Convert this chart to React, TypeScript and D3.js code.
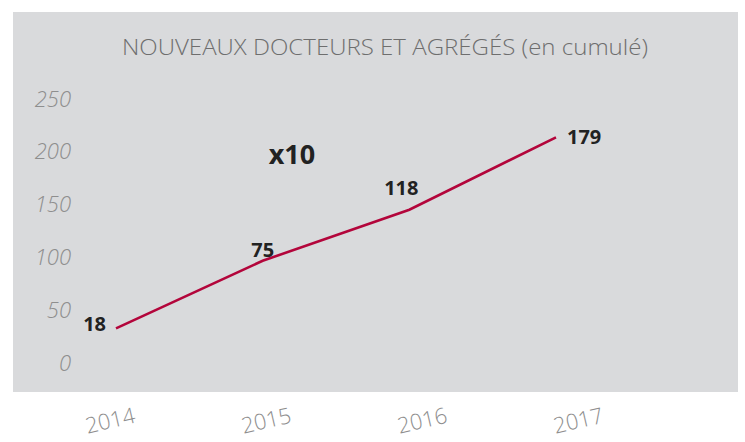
import React from "react";
import * as d3 from "d3";

const years = ["2014", "2015", "2016", "2017"];
const values = [18, 75, 118, 179];
const yTicks = [0, 50, 100, 150, 200, 250];
const title = "NOUVEAUX DOCTEURS ET AGRÉGÉS (en cumulé)";
const multiplier = "x10";

export default function App() {
  const W = 745, H = 442;
  const font = "'Open Sans', 'Noto Sans', sans-serif";
  const xLine = d3.scalePoint<string>().domain(years).range([116, 556]);
  const xLab = d3.scalePoint<string>().domain(years).range([112, 580]);
  const yAxis = d3.scaleLinear().domain([0, 250]).range([363, 99]);
  const yLine = d3.scaleLinear().domain([0, 250]).range([349.8, 53]);
  const line = d3
    .line<number>()
    .x((_, i) => xLine(years[i])!)
    .y((d) => yLine(d));
  const labelOffsets = [
    { dx: -10, dy: -4, anchor: "end" },
    { dx: 0, dy: -11, anchor: "middle" },
    { dx: -8, dy: -22, anchor: "middle" },
    { dx: 11, dy: 0, anchor: "start" },
  ];
  return (
    <svg
      width={W}
      height={H}
      style={{ position: "absolute", left: 0, top: 0 }}
    >
      <rect x={0} y={0} width={W} height={H} fill="#ffffff" />
      <rect x={13} y={12} width={725} height={380} fill="#d9dadc" />
      <text
        x={385}
        y={55}
        textAnchor="middle"
        fontFamily={font}
        fontWeight={300}
        fontSize={22}
        textLength={526}
        lengthAdjust="spacingAndGlyphs"
        fill="#6e6e6e"
      >
        {title}
      </text>
      {yTicks.map((t) => (
        <text
          key={t}
          x={71}
          y={yAxis(t) + 7.5}
          textAnchor="end"
          fontFamily={font}
          fontStyle="italic"
          fontWeight={300}
          fontSize={22}
          fill="#8e8e8e"
        >
          {t}
        </text>
      ))}
      {years.map((y) => (
        <text
          key={y}
          transform={`translate(${xLab(y)},${428}) rotate(-13)`}
          textAnchor="middle"
          fontFamily={font}
          fontWeight={300}
          fontSize={22}
          fill="#8e8e8e"
        >
          {y}
        </text>
      ))}
      <path
        d={line(values) || ""}
        fill="none"
        stroke="#b3053b"
        strokeWidth={2.6}
      />
      {values.map((v, i) => {
        const o = labelOffsets[i];
        return (
          <text
            key={i}
            x={xLine(years[i])! + o.dx}
            y={yLine(v) + o.dy + 7}
            textAnchor={o.anchor as any}
            fontFamily={font}
            fontWeight={700}
            fontSize={20}
            fill="#222"
          >
            {v}
          </text>
        );
      })}
      <text
        x={292}
        y={164}
        textAnchor="middle"
        fontFamily={font}
        fontWeight={700}
        fontSize={27}
        fill="#222"
      >
        {multiplier}
      </text>
    </svg>
  );
}
